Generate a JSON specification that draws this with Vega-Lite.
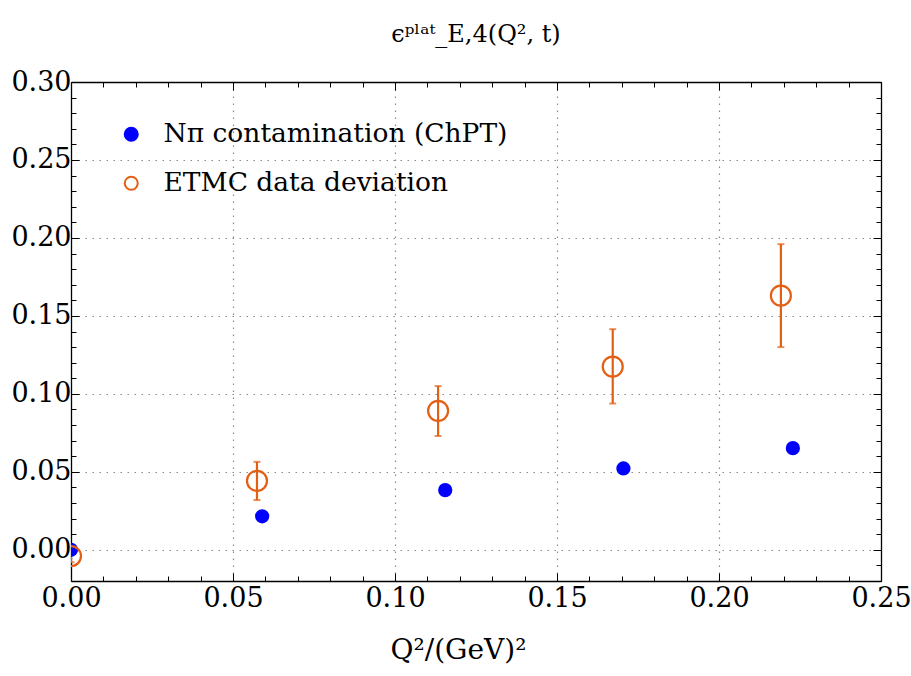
{
  "$schema": "https://vega.github.io/schema/vega-lite/v6.json",
  "width": 810,
  "height": 499,
  "autosize": {"type": "none"},
  "padding": {"left": 71, "top": 82, "right": 30, "bottom": 95},
  "background": "white",
  "title": {
    "text": "ϵᵖˡᵃᵗ_E,4(Q², t)",
    "font": "DejaVu Serif",
    "fontSize": 24,
    "fontWeight": "normal",
    "color": "#000000",
    "offset": 21,
    "anchor": "middle"
  },
  "config": {
    "view": {"stroke": null},
    "font": "DejaVu Serif",
    "axis": {
      "domainColor": "#000000",
      "domainWidth": 1.3,
      "tickColor": "#000000",
      "tickWidth": 1,
      "labelFont": "DejaVu Serif",
      "labelFontSize": 27,
      "labelColor": "#000000",
      "titleFont": "DejaVu Serif",
      "titleFontSize": 28,
      "titleFontWeight": "normal",
      "titleColor": "#000000",
      "gridColor": "#8a8a8a",
      "gridDash": [1.5, 5.5],
      "gridWidth": 1.2
    },
    "legend": {
      "labelFont": "DejaVu Serif",
      "labelFontSize": 26.5,
      "labelColor": "#000000"
    }
  },
  "datasets": {
    "pts": [
      {"series": "Nπ contamination (ChPT)", "q2": 0.0, "eps": 0.0},
      {"series": "Nπ contamination (ChPT)", "q2": 0.059, "eps": 0.0215},
      {"series": "Nπ contamination (ChPT)", "q2": 0.1155, "eps": 0.0383},
      {"series": "Nπ contamination (ChPT)", "q2": 0.1705, "eps": 0.0522},
      {"series": "Nπ contamination (ChPT)", "q2": 0.2228, "eps": 0.0652},
      {"series": "ETMC data deviation", "q2": 0.0, "eps": -0.004, "lo": -0.008, "hi": 0.001},
      {"series": "ETMC data deviation", "q2": 0.0574, "eps": 0.0442, "lo": 0.0319, "hi": 0.0564},
      {"series": "ETMC data deviation", "q2": 0.1133, "eps": 0.0891, "lo": 0.073, "hi": 0.105},
      {"series": "ETMC data deviation", "q2": 0.1672, "eps": 0.1175, "lo": 0.0938, "hi": 0.1415},
      {"series": "ETMC data deviation", "q2": 0.2191, "eps": 0.163, "lo": 0.13, "hi": 0.196}
    ]
  },
  "data": {"name": "pts"},
  "layer": [
    {
      "encoding": {
        "x": {
          "field": "q2",
          "type": "quantitative",
          "scale": {"domain": [0, 0.25], "nice": false, "zero": false},
          "axis": {
            "orient": "bottom",
            "title": "Q²/(GeV)²",
            "titlePadding": 22,
            "titleX": 387,
            "titleAlign": "center",
            "values": [0,0.01,0.02,0.03,0.04,0.05,0.06,0.07,0.08,0.09,0.1,0.11,0.12,0.13,0.14,0.15,0.16,0.17,0.18,0.19,0.2,0.21,0.22,0.23,0.24,0.25],
            "format": ".2f",
            "labelExpr": "abs(datum.value*20 - round(datum.value*20)) < 0.001 ? datum.label : ''",
            "labelPadding": 12,
            "labelFlush": false,
            "labelOverlap": false,
            "grid": true,
            "gridOpacity": {"condition": {"test": "abs(datum.value*20 - round(datum.value*20)) < 0.001 && datum.value > 0.001 && datum.value < 0.249", "value": 1}, "value": 0},
            "tickSize": {"condition": {"test": "abs(datum.value*20 - round(datum.value*20)) < 0.001", "value": -8}, "value": -5}
          }
        }
      },
      "layer": [
        {
          "transform": [{"filter": "isValid(datum.lo)"}],
          "mark": {"type": "rule", "color": "#e35f14", "strokeWidth": 2.2, "clip": true},
          "encoding": {
            "y": {
              "field": "lo", "type": "quantitative",
              "scale": {"domain": [-0.02, 0.30], "nice": false, "zero": false},
              "axis": {
                "orient": "left", "title": null,
                "values": [-0.02,-0.01,0,0.01,0.02,0.03,0.04,0.05,0.06,0.07,0.08,0.09,0.1,0.11,0.12,0.13,0.14,0.15,0.16,0.17,0.18,0.19,0.2,0.21,0.22,0.23,0.24,0.25,0.26,0.27,0.28,0.29,0.3],
                "format": ".2f",
                "labelExpr": "abs(datum.value*20 - round(datum.value*20)) < 0.001 ? datum.label : ''",
                "labelPadding": 8,
                "labelFlush": false,
                "labelOverlap": false,
                "grid": true,
                "gridOpacity": {"condition": {"test": "abs(datum.value*20 - round(datum.value*20)) < 0.001 && datum.value < 0.299", "value": 1}, "value": 0},
                "tickSize": {"condition": {"test": "abs(datum.value*20 - round(datum.value*20)) < 0.001", "value": -8}, "value": -5}
              }
            },
            "y2": {"field": "hi"}
          }
        },
        {
          "transform": [{"filter": "isValid(datum.lo)"}],
          "mark": {"type": "tick", "orient": "horizontal", "color": "#e35f14", "size": 7, "thickness": 2, "clip": true},
          "encoding": {
            "y": {
              "field": "lo", "type": "quantitative",
              "axis": {
                "orient": "left", "title": null,
                "values": [-0.02,-0.01,0,0.01,0.02,0.03,0.04,0.05,0.06,0.07,0.08,0.09,0.1,0.11,0.12,0.13,0.14,0.15,0.16,0.17,0.18,0.19,0.2,0.21,0.22,0.23,0.24,0.25,0.26,0.27,0.28,0.29,0.3],
                "format": ".2f",
                "labelExpr": "abs(datum.value*20 - round(datum.value*20)) < 0.001 ? datum.label : ''",
                "labelPadding": 8,
                "labelFlush": false,
                "labelOverlap": false,
                "grid": true,
                "gridOpacity": {"condition": {"test": "abs(datum.value*20 - round(datum.value*20)) < 0.001 && datum.value < 0.299", "value": 1}, "value": 0},
                "tickSize": {"condition": {"test": "abs(datum.value*20 - round(datum.value*20)) < 0.001", "value": -8}, "value": -5}
              }
            }
          }
        },
        {
          "transform": [{"filter": "isValid(datum.lo)"}],
          "mark": {"type": "tick", "orient": "horizontal", "color": "#e35f14", "size": 7, "thickness": 2, "clip": true},
          "encoding": {
            "y": {
              "field": "hi", "type": "quantitative",
              "axis": {
                "orient": "left", "title": null,
                "values": [-0.02,-0.01,0,0.01,0.02,0.03,0.04,0.05,0.06,0.07,0.08,0.09,0.1,0.11,0.12,0.13,0.14,0.15,0.16,0.17,0.18,0.19,0.2,0.21,0.22,0.23,0.24,0.25,0.26,0.27,0.28,0.29,0.3],
                "format": ".2f",
                "labelExpr": "abs(datum.value*20 - round(datum.value*20)) < 0.001 ? datum.label : ''",
                "labelPadding": 8,
                "labelFlush": false,
                "labelOverlap": false,
                "grid": true,
                "gridOpacity": {"condition": {"test": "abs(datum.value*20 - round(datum.value*20)) < 0.001 && datum.value < 0.299", "value": 1}, "value": 0},
                "tickSize": {"condition": {"test": "abs(datum.value*20 - round(datum.value*20)) < 0.001", "value": -8}, "value": -5}
              }
            }
          }
        },
        {
          "transform": [{"filter": "datum.series === 'Nπ contamination (ChPT)'"}],
          "mark": {"type": "point", "shape": "circle", "strokeWidth": 2, "opacity": 1, "size": 150, "clip": true},
          "encoding": {
            "y": {
              "field": "eps", "type": "quantitative",
              "axis": {
                "orient": "left", "title": null,
                "values": [-0.02,-0.01,0,0.01,0.02,0.03,0.04,0.05,0.06,0.07,0.08,0.09,0.1,0.11,0.12,0.13,0.14,0.15,0.16,0.17,0.18,0.19,0.2,0.21,0.22,0.23,0.24,0.25,0.26,0.27,0.28,0.29,0.3],
                "format": ".2f",
                "labelExpr": "abs(datum.value*20 - round(datum.value*20)) < 0.001 ? datum.label : ''",
                "labelPadding": 8,
                "labelFlush": false,
                "labelOverlap": false,
                "grid": true,
                "gridOpacity": {"condition": {"test": "abs(datum.value*20 - round(datum.value*20)) < 0.001 && datum.value < 0.299", "value": 1}, "value": 0},
                "tickSize": {"condition": {"test": "abs(datum.value*20 - round(datum.value*20)) < 0.001", "value": -8}, "value": -5}
              }
            },
            "fill": {
              "field": "series", "type": "nominal",
              "scale": {"domain": ["Nπ contamination (ChPT)", "ETMC data deviation"], "range": ["#0000ff", "transparent"]},
              "legend": {
                "title": null,
                "orient": "none",
                "legendX": 47,
                "legendY": 39,
                "padding": 0,
                "symbolSize": 170,
                "symbolStrokeWidth": 2,
                "labelOffset": 19,
                "rowPadding": 22,
                "labelLimit": 500
              }
            },
            "stroke": {
              "field": "series", "type": "nominal",
              "scale": {"domain": ["Nπ contamination (ChPT)", "ETMC data deviation"], "range": ["#0000ff", "#e35f14"]}
            }
          }
        },
        {
          "transform": [{"filter": "datum.series === 'ETMC data deviation'"}],
          "mark": {"type": "point", "shape": "circle", "strokeWidth": 2.2, "opacity": 1, "size": 400, "clip": true},
          "encoding": {
            "y": {
              "field": "eps", "type": "quantitative",
              "axis": {
                "orient": "left", "title": null,
                "values": [-0.02,-0.01,0,0.01,0.02,0.03,0.04,0.05,0.06,0.07,0.08,0.09,0.1,0.11,0.12,0.13,0.14,0.15,0.16,0.17,0.18,0.19,0.2,0.21,0.22,0.23,0.24,0.25,0.26,0.27,0.28,0.29,0.3],
                "format": ".2f",
                "labelExpr": "abs(datum.value*20 - round(datum.value*20)) < 0.001 ? datum.label : ''",
                "labelPadding": 8,
                "labelFlush": false,
                "labelOverlap": false,
                "grid": true,
                "gridOpacity": {"condition": {"test": "abs(datum.value*20 - round(datum.value*20)) < 0.001 && datum.value < 0.299", "value": 1}, "value": 0},
                "tickSize": {"condition": {"test": "abs(datum.value*20 - round(datum.value*20)) < 0.001", "value": -8}, "value": -5}
              }
            },
            "fill": {"field": "series", "type": "nominal"},
            "stroke": {"field": "series", "type": "nominal"}
          }
        }
      ]
    },
    {
      "mark": {"type": "point", "opacity": 0},
      "encoding": {
        "x": {
          "field": "q2", "type": "quantitative",
          "axis": {
            "orient": "top", "title": null, "labels": false, "grid": false,
            "values": [0,0.01,0.02,0.03,0.04,0.05,0.06,0.07,0.08,0.09,0.1,0.11,0.12,0.13,0.14,0.15,0.16,0.17,0.18,0.19,0.2,0.21,0.22,0.23,0.24,0.25],
            "tickSize": {"condition": {"test": "abs(datum.value*20 - round(datum.value*20)) < 0.001", "value": -8}, "value": -5}
          }
        },
        "y": {
          "field": "eps", "type": "quantitative",
          "axis": {
            "orient": "right", "title": null, "labels": false, "grid": false,
            "values": [-0.02,-0.01,0,0.01,0.02,0.03,0.04,0.05,0.06,0.07,0.08,0.09,0.1,0.11,0.12,0.13,0.14,0.15,0.16,0.17,0.18,0.19,0.2,0.21,0.22,0.23,0.24,0.25,0.26,0.27,0.28,0.29,0.3],
            "tickSize": {"condition": {"test": "abs(datum.value*20 - round(datum.value*20)) < 0.001", "value": -8}, "value": -5}
          }
        }
      }
    }
  ],
  "resolve": {"axis": {"x": "independent", "y": "independent"}}
}
